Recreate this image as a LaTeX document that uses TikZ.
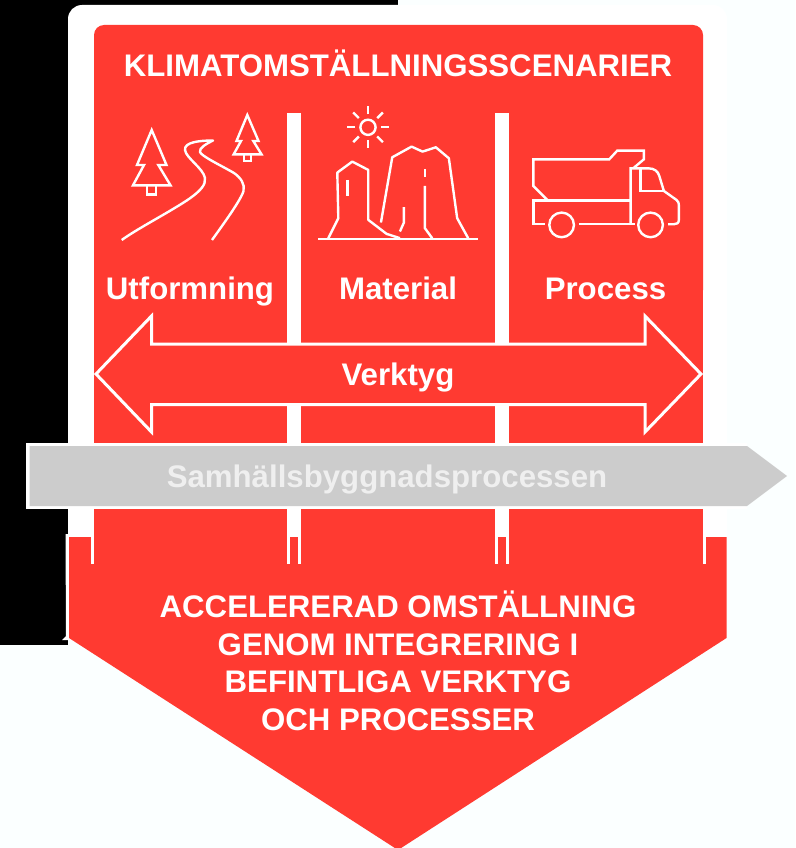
\documentclass[tikz,border=0pt]{standalone}
\usepackage{fontspec}
\setmainfont{Liberation Sans}[BoldFont={Liberation Sans Bold}]
\definecolor{rd}{HTML}{FF3A31}
\definecolor{gy}{HTML}{CCCCCC}
\definecolor{pale}{HTML}{FBFFFF}
\definecolor{gtxt}{HTML}{EFEFEF}
\tikzset{
  icon/.style={draw=white,line width=2.4pt,line join=miter},
  iconthin/.style={draw=white,line width=2.4pt,line join=round},
  lbl/.style={text=white,font=\bfseries\fontsize{31.2}{36}\selectfont,inner sep=0pt,anchor=base},
}
\begin{document}
\begin{tikzpicture}[x=1pt,y=-1pt]
\useasboundingbox (0,0) rectangle (795,848);
\fill[pale] (0,0) rectangle (795,848);
\fill[black] (0,0) rectangle (398,5);
\fill[black] (0,0) rectangle (100,40);
\fill[black] (0,0) rectangle (68,645);
% white panel
\fill[white,rounded corners=14pt] (68,5) -- (727,5) -- (727,560) -- (68,560) -- cycle;
% red panel
\fill[rd,rounded corners=10pt] (94,25) -- (703,25) -- (703,300) -- (94,300) -- cycle;
\fill[rd] (94,200) rectangle (703,564);
% separators
\fill[white] (287.4,113) rectangle (301.2,564);
\fill[white] (495,113) rectangle (509,564);
% lower arrow
\fill[white] (65.5,534) -- (69,534) -- (69,640) -- (62,640) -- (66,636) -- cycle;
\fill[rd] (69,537) -- (726.5,537) -- (726.5,638) -- (398,850) -- (69,638) -- cycle;
\fill[white] (91,537) rectangle (94,564);
\fill[white] (287.4,537) rectangle (290.4,564);
\fill[white] (298.2,537) rectangle (301.2,564);
\fill[white] (495,537) rectangle (498,564);
\fill[white] (506,537) rectangle (509,564);
\fill[white] (703,537) rectangle (706,564);
\fill[rd] (94,537) rectangle (287.4,564);
\fill[rd] (301.2,537) rectangle (495,564);
\fill[rd] (509,537) rectangle (703,564);
% double arrow
\draw[fill=rd,draw=white,line width=3pt,miter limit=3]
  (96,374) -- (151.5,316) -- (151.5,344) -- (645,344) -- (645,316) -- (701,374)
  -- (645,432) -- (645,404.5) -- (151.5,404.5) -- (151.5,432) -- cycle;
% grey arrow
\fill[white] (26,443) -- (747,443) -- (747,509) -- (26,509) -- cycle;
\fill[gy] (29.5,446) -- (747,446) -- (787,476) -- (747,506) -- (29.5,506) -- cycle;
% icon: tree left
\draw[icon] (151.7,130) -- (137,165) -- (144,165) -- (133,185.3) -- (170.5,185.3) -- (158.3,165) -- (166.5,165) -- cycle;
\draw[icon] (146.7,185.3) -- (146.7,194.3) -- (156,194.3) -- (156,185.3);
% icon: tree right
\draw[icon] (247.3,115) -- (236.5,141) -- (241,141) -- (233.7,154.3) -- (261.5,154.3) -- (253.3,141) -- (258.5,141) -- cycle;
\draw[icon] (244,154.3) -- (244,161) -- (251,161) -- (251,154.3);
% icon: road
\draw[iconthin] (121.7,240) .. controls (140,227) and (170,212) .. (190,198.3)
  .. controls (200,191) and (206,185) .. (205,178)
  .. controls (203,168) and (186,158) .. (185,150)
  .. controls (184,142) and (200,140.5) .. (213,140.5)
  .. controls (206,144) and (199,148) .. (200,152)
  .. controls (201,156) and (222,166) .. (234,173)
  .. controls (241,178) and (245,184) .. (243.5,191)
  .. controls (241,200) and (222,226) .. (212,240);
% icon: sun
\coordinate (sunc) at (368,127.3);
\draw[icon] (sunc) circle[radius=7.6];
\foreach \a in {0,45,...,315} \draw[icon] (sunc) ++(\a:13) -- ++(\a:8);
% icon: rocks
\begin{scope}[shift={(310,100)},x=0.333pt,y=-0.333pt]
\draw[icon,line join=round] (55,415) -- (85,355) -- (82,218) -- (127,185) -- (175,210) -- (175,360) -- (230,402) -- (270,415);
\draw[icon,line join=round] (213,368) -- (247,172) -- (305,140) -- (338,155) -- (378,142) -- (417,175) -- (442,355) -- (475,415);
\draw[icon] (282,322) -- (282,368) -- (270,395);
\draw[icon] (345,207) -- (345,232);
\draw[icon] (345,258) -- (345,385) -- (367,415);
\draw[icon] (113,240) -- (113,288);
\draw[icon] (25,418) -- (505,418);
\end{scope}
% truck
\begin{scope}[shift={(520,140)},x=0.333pt,y=-0.333pt]
\draw[icon] (82,180) -- (40,138) -- (40,58) -- (268,58) -- (292,32) -- (372,32) -- (372,58) -- (340,85);
\draw[icon] (75,253) -- (40,253) -- (40,182) -- (332,182);
\draw[icon] (178,253) -- (345,253);
\draw[icon] (332,253) -- (332,85) -- (385,85) .. controls (405,85) and (414,95) .. (418,107) -- (432,153) -- (470,180) .. controls (476,185) and (477,190) .. (477,195) -- (477,240) .. controls (477,250) and (470,253) .. (462,253) -- (445,253);
\draw[icon] (362,85) -- (362,153) -- (432,153);
\draw[icon] (125,255) circle[radius=37];
\draw[icon] (392,255) circle[radius=37];
\end{scope}
% texts
\node[lbl] (title) at (398,77) {KLIMATOMSTÄLLNINGSSCENARIER};
\node[lbl] (utf) at (190,299) {Utformning};
\node[lbl] (mat) at (398,299) {Material};
\node[lbl] (pro) at (605.5,299) {Process};
\node[lbl] (ver) at (398,385) {Verktyg};
\node[lbl,text=gtxt] (sam) at (387,487.5) {Samhällsbyggnadsprocessen};
\node[lbl] (a1) at (398,617) {ACCELERERAD OMSTÄLLNING};
\node[lbl] (a2) at (398,655) {GENOM INTEGRERING I};
\node[lbl] (a3) at (398,692) {BEFINTLIGA VERKTYG};
\node[lbl] (a4) at (398,730) {OCH PROCESSER};
\end{tikzpicture}
\end{document}
